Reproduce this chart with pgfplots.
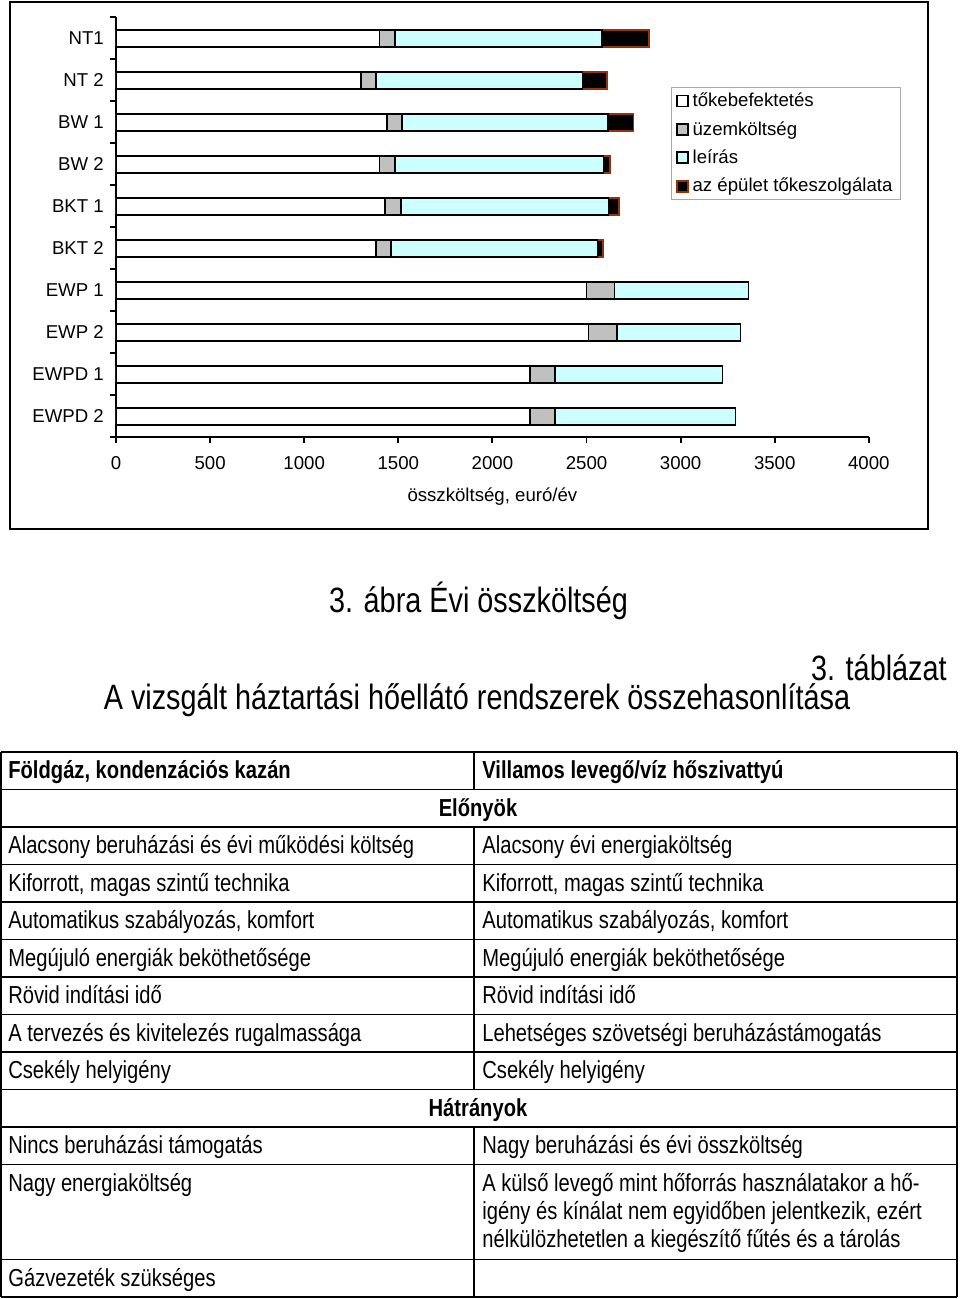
\documentclass[border=0pt]{standalone}
\usepackage{fontspec}
\setmainfont{Liberation Sans}
\newfontfamily\narrow{Liberation Sans}[FakeStretch=0.82]
\usepackage{pgfplots}
\pgfplotsset{compat=1.18}

\definecolor{lgray}{RGB}{192,192,192}
\definecolor{lcyan}{RGB}{204,255,255}
\definecolor{brn}{RGB}{150,50,10}

\newcommand\chartfont{\fontsize{10.6pt}{12pt}\selectfont}
\newcommand\tabfont{\narrow\fontsize{14pt}{16pt}\selectfont}
\newcommand\capfont{\narrow\fontsize{20pt}{22pt}\selectfont}

\begin{document}
\begin{tikzpicture}[x=0.02cm,y=0.02cm]
\path[use as bounding box] (0,0) rectangle (960,1299);
% chart frame
\draw[line width=1.4pt] (10,1299-2) rectangle (928,1299-529);

\begin{axis}[
  at={(2.32cm,17.24cm)}, anchor=south west,
  scale only axis, width=15.06cm, height=8.4cm,
  xbar stacked, bar width=0.34cm,
  xmin=0, xmax=4000, ymin=-0.5, ymax=9.5,
  enlargelimits=false,
  axis lines*=left,
  axis line style={line width=1.1pt},
  tick align=outside, major tick length=0.12cm,
  tick style={line width=1.1pt, black},
  xtick={0,500,...,4000},
  ytick={-0.5,0.5,...,9.5},
  y tick label as interval,
  yticklabels={EWPD 2,EWPD 1,EWP 2,EWP 1,BKT 2,BKT 1,BW 2,BW 1,NT 2,NT1},
  /pgf/number format/1000 sep={},
  /pgf/number format/assume math mode=true,
  scaled ticks=false,
  ticklabel style={font=\chartfont},
  xticklabel style={yshift=-0.14cm},
  xlabel={összköltség, euró/év},
  xlabel style={font=\chartfont, yshift=-0.12cm},
  legend image code/.code={\draw[#1] (0cm,-0.11cm) rectangle (0.22cm,0.11cm);},
  legend cell align=left,
  legend style={at={(0.737,0.833)}, anchor=north west,
    draw={rgb,255:red,170;green,170;blue,170}, line width=0.6pt,
    font=\chartfont, row sep=0.1cm, inner xsep=0.1cm, inner ysep=0.03cm},
]
% rows listed NT1 first (y=9) down to EWPD 2 (y=0)
\addplot[fill=white, draw=black, line width=1pt] coordinates
  {(1400,9) (1300,8) (1440,7) (1400,6) (1430,5) (1380,4) (2500,3) (2510,2) (2200,1) (2200,0)};
\addplot[fill=lgray, draw=black, line width=1pt] coordinates
  {(82,9) (82,8) (80,7) (82,6) (83,5) (80,4) (149,3) (151,2) (131,1) (131,0)};
\addplot[fill=lcyan, draw=black, line width=1pt] coordinates
  {(1100,9) (1097,8) (1094,7) (1108,6) (1104,5) (1099,4) (712,3) (657,2) (891,1) (960,0)};
\addplot[fill=black, draw=brn, line width=1pt] coordinates
  {(250,9) (131,8) (136,7) (34,6) (57,5) (27,4)};
\legend{tőkebefektetés, üzemköltség, leírás, az épület tőkeszolgálata}
\end{axis}

% captions
\node[font=\capfont] at (478.5,1299-601) {3. ábra Évi összköltség};
\node[font=\capfont, anchor=east, inner sep=0pt] at (947,1299-668) {3. táblázat};
\node[font=\capfont] at (477,1299-700) {A vizsgált háztartási hőellátó rendszerek összehasonlítása};

% table grid
\begin{scope}[line width=0.9pt]
\foreach \yy in {752,789.5,827,864.5,902,939.5,977,1014.5,1052,1089.5,1127,1164.5,1259.5,1297}
  \draw (1,1299-\yy) -- (957,1299-\yy);
\draw (1,1299-752) -- (1,1299-1297);
\draw (957,1299-752) -- (957,1299-1297);
\draw (474,1299-752) -- (474,1299-789.5);
\draw (474,1299-827) -- (474,1299-1089.5);
\draw (474,1299-1127) -- (474,1299-1297);
\end{scope}

% table text
\begin{scope}[every node/.style={font=\tabfont, anchor=base west, inner sep=0pt}]
\node at (8,1299-779) {\bfseries Földgáz, kondenzációs kazán};
\node at (482,1299-779) {\bfseries Villamos levegő/víz hőszivattyú};
\node[anchor=base] at (478,1299-816.5) {\bfseries Előnyök};
\node at (8,1299-854) {Alacsony beruházási és évi működési költség};
\node at (482,1299-854) {Alacsony évi energiaköltség};
\node at (8,1299-891.5) {Kiforrott, magas szintű technika};
\node at (482,1299-891.5) {Kiforrott, magas szintű technika};
\node at (8,1299-929) {Automatikus szabályozás, komfort};
\node at (482,1299-929) {Automatikus szabályozás, komfort};
\node at (8,1299-966.5) {Megújuló energiák beköthetősége};
\node at (482,1299-966.5) {Megújuló energiák beköthetősége};
\node at (8,1299-1004) {Rövid indítási idő};
\node at (482,1299-1004) {Rövid indítási idő};
\node at (8,1299-1041.5) {A tervezés és kivitelezés rugalmassága};
\node at (482,1299-1041.5) {Lehetséges szövetségi beruházástámogatás};
\node at (8,1299-1079) {Csekély helyigény};
\node at (482,1299-1079) {Csekély helyigény};
\node[anchor=base] at (478,1299-1116.5) {\bfseries Hátrányok};
\node at (8,1299-1154) {Nincs beruházási támogatás};
\node at (482,1299-1154) {Nagy beruházási és évi összköltség};
\node at (8,1299-1191.5) {Nagy energiaköltség};
\node at (482,1299-1191.5) {A külső levegő mint hőforrás használatakor a hő-};
\node at (482,1299-1219.5) {igény és kínálat nem egyidőben jelentkezik, ezért};
\node at (482,1299-1247.5) {nélkülözhetetlen a kiegészítő fűtés és a tárolás};
\node at (8,1299-1286.5) {Gázvezeték szükséges};
\end{scope}
\end{tikzpicture}
\end{document}
